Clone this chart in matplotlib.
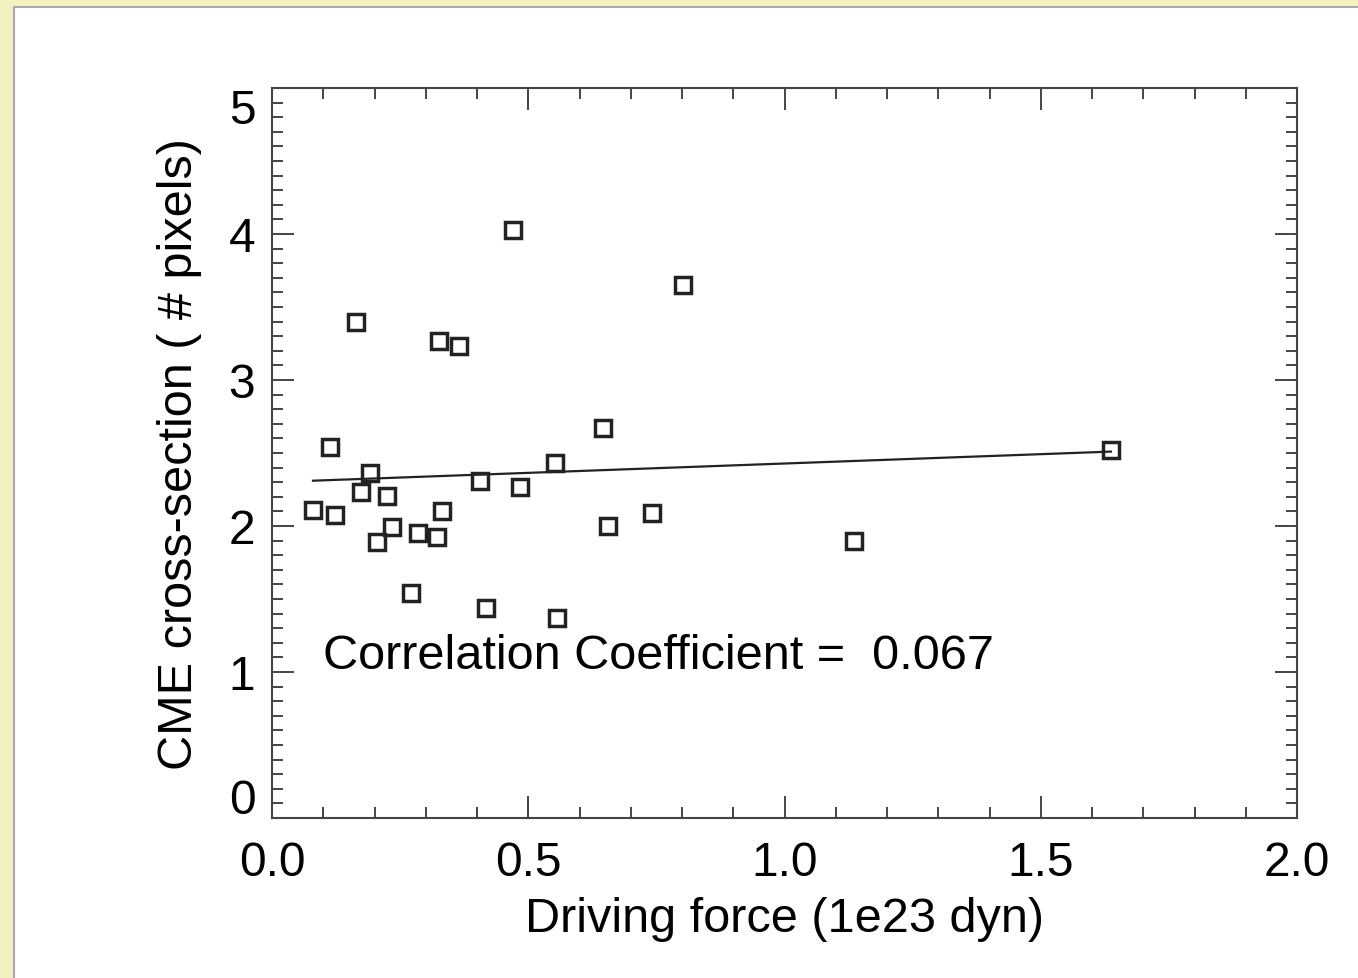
import matplotlib
matplotlib.use("Agg")
import matplotlib.pyplot as plt
from matplotlib.patches import Rectangle
from matplotlib.ticker import MultipleLocator
import matplotlib.transforms as mtransforms
import numpy as np

# Data
driving_force = [0.080, 0.123, 0.113, 0.164, 0.174, 0.191, 0.205, 0.224, 0.234,
                 0.271, 0.285, 0.322, 0.326, 0.332, 0.365, 0.406, 0.417, 0.470,
                 0.484, 0.552, 0.556, 0.646, 0.656, 0.741, 0.802, 1.136, 1.637]
cross_section = [2.11, 2.075, 2.54, 3.40, 2.23, 2.36, 1.89, 2.205, 1.99,
                 1.54, 1.95, 1.925, 3.27, 2.10, 3.23, 2.31, 1.44, 4.03,
                 2.27, 2.43, 1.37, 2.67, 2.00, 2.09, 3.65, 1.90, 2.52]
fit_intercept = 2.30
fit_slope = 0.128
corr_text = "Correlation Coefficient =  0.067"
xlabel = "Driving force (1e23 dyn)"
ylabel = "CME cross-section ( # pixels)"
xticks = [0.0, 0.5, 1.0, 1.5, 2.0]
xticklabels = ["0.0", "0.5", "1.0", "1.5", "2.0"]
yticks = [0, 1, 2, 3, 4, 5]
yticklabels = ["0", "1", "2", "3", "4", "5"]

plt.rcParams['font.family'] = ['Liberation Sans', 'DejaVu Sans']

W, H = 1358, 979
fig = plt.figure(figsize=(W / 100, H / 100), dpi=100, facecolor='#F4F1C1')
panel = Rectangle((14 / W, -0.01), 1.1, 1.01 - 8 / H, transform=fig.transFigure,
                  facecolor='white', edgecolor='#a8a8a8', linewidth=1.5, zorder=-10)
fig.patches.append(panel)

ax = fig.add_axes([272 / W, 1 - 819 / H, (1297 - 272) / W, (819 - 89) / H])
ax.set_zorder(1)
ax.set_facecolor('white')
ax.set_xlim(0, 2)
ax.set_ylim(0, 5)

ink = '#222222'
ax.plot(driving_force, cross_section, linestyle='none', marker='s', markersize=12,
        markerfacecolor='none', markeredgecolor=ink, markeredgewidth=2.5, zorder=3)

xf = np.array([min(driving_force), max(driving_force)])
ax.plot(xf, fit_intercept + fit_slope * xf, color=ink, linewidth=1.6, zorder=2)

ax.text(0.10, 1.11, corr_text, fontsize=35, color='black', va='center', ha='left')

ax.set_xticks(xticks)
ax.set_xticklabels(xticklabels)
ax.set_yticks(yticks)
ax.set_yticklabels(yticklabels)
ax.xaxis.set_minor_locator(MultipleLocator(0.1))
ax.yaxis.set_minor_locator(MultipleLocator(0.1))
ax.tick_params(which='both', direction='in', top=True, right=True, color='#444444', width=1.4)
ax.tick_params(which='major', length=16, labelsize=34.5)
ax.tick_params(which='minor', length=8)
ax.tick_params(axis='x', pad=16)
ax.tick_params(axis='y', pad=12)
for s in ax.spines.values():
    s.set_color('#444444')
    s.set_linewidth(1.5)

ylabs = ax.get_yticklabels()
ylabs[0].set_va('bottom')
ylabs[0].set_transform(ylabs[0].get_transform() +
                       mtransforms.ScaledTranslation(0, -5 / 100, fig.dpi_scale_trans))
ylabs[-1].set_va('top')

ax.set_xlabel(xlabel, fontsize=35, labelpad=8)
ax.set_ylabel(ylabel, fontsize=35, labelpad=19)

fig.savefig('out.png', dpi=100, facecolor=fig.get_facecolor())
